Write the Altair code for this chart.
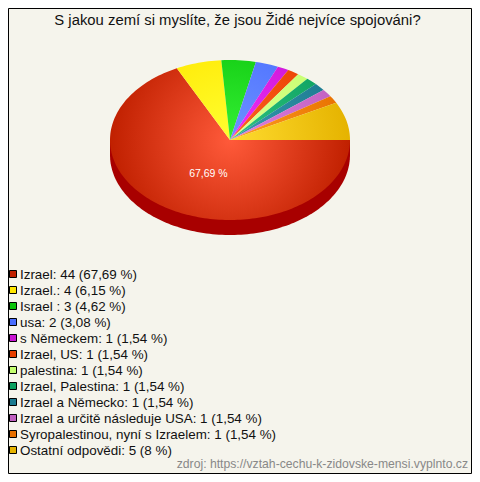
import numpy as np
import pandas as pd
import altair as alt

TITLE = "S jakou zemí si myslíte, že jsou Židé nejvíce spojováni?"
SOURCE = "zdroj: https://vztah-cechu-k-zidovske-mensi.vyplnto.cz"
PIE_LABEL = "67,69 %"
categories = ["Izrael", "Izrael.", "Israel ", "usa", "s Německem", "Izrael, US", "palestina",
              "Izrael, Palestina", "Izrael a Německo", "Izrael a určitě následuje USA",
              "Syropalestinou, nyní s Izraelem", "Ostatní odpovědi"]
counts = [44, 4, 3, 2, 1, 1, 1, 1, 1, 1, 1, 5]
percents = ["67,69", "6,15", "4,62", "3,08", "1,54", "1,54", "1,54", "1,54", "1,54", "1,54", "1,54", "8"]
edge_colors = ["#c02000", "#ffe600", "#0cc40c", "#4a6eff", "#c814d2", "#e84000", "#c4ff70",
               "#0ca060", "#1a7a90", "#c060c0", "#e87000", "#e5b300"]
center_colors = ["#ff5a3a", "#ffff30", "#34f034", "#6e92ff", "#f030fa", "#ff6020", "#e0ff90",
                 "#30c480", "#3a9ab0", "#e080e0", "#ffa020", "#ffdc30"]

BG = "#f5f4ec"
labels = [f"{c}: {n} ({p} %)" for c, n, p in zip(categories, counts, percents)]
total = sum(counts)
cuts = np.cumsum([0] + counts) / total * 2 * np.pi

x_scale = alt.Scale(domain=[-1, 1], range=[102, 342], nice=False, zero=False)
y_scale = alt.Scale(domain=[-1, 1], range=[212, 52], nice=False, zero=False)


def wedge_frame(t0, t1):
    # zero-area spokes make every wedge's box the full ellipse, so the radial
    # gradient is centred on the pie for all of them
    xs, ys = [0], [0]
    for sx, sy in [(1, 0), (0, 1), (-1, 0), (0, -1)]:
        xs += [sx, 0]
        ys += [sy, 0]
    ang = np.linspace(t0, t1, max(4, int((t1 - t0) * 40)))
    xs += list(np.cos(ang)) + [0]
    ys += list(-np.sin(ang)) + [0]
    return pd.DataFrame({"x": xs, "y": ys, "i": range(len(xs))})


wedges = []
for k in range(len(counts)):
    grad = alt.Gradient(
        gradient="radial", x1=0.5, y1=0.5, r1=0, x2=0.5, y2=0.5, r2=0.5,
        stops=[alt.GradientStop(offset=0, color=center_colors[k]),
               alt.GradientStop(offset=1, color=edge_colors[k])],
    )
    wedges.append(
        alt.Chart(wedge_frame(cuts[k], cuts[k + 1])).mark_line(fill=grad, strokeWidth=0).encode(
            x=alt.X("x:Q", scale=x_scale, axis=None),
            y=alt.Y("y:Q", scale=y_scale, axis=None),
            order="i:Q",
        )
    )

depth = 15 / 80
side_t = np.linspace(0, np.pi, 120)
side_df = pd.DataFrame({
    "x": [1.0] + list(np.cos(side_t)) + [-1.0],
    "y": [0.0] + list(-np.sin(side_t) - depth) + [0.0],
})
side_df["i"] = range(len(side_df))
side = alt.Chart(side_df).mark_line(fill="#a80000", strokeWidth=0).encode(
    x=alt.X("x:Q", scale=x_scale, axis=None),
    y=alt.Y("y:Q", scale=y_scale, axis=None),
    order="i:Q",
)

pie_label = alt.Chart(pd.DataFrame({"x": [-0.18], "y": [-0.42], "t": [PIE_LABEL]})).mark_text(
    color="white", font="Liberation Sans", fontSize=10.5, baseline="middle", align="center"
).encode(
    x=alt.X("x:Q", scale=x_scale, axis=None),
    y=alt.Y("y:Q", scale=y_scale, axis=None),
    text="t:N",
)

pie = alt.layer(side, *wedges, pie_label)

legend_df = pd.DataFrame({"label": labels, "color": edge_colors[:len(labels)]})
row_scale = alt.Scale(type="point", padding=0, domain=labels,
                      range=[266, 266 + 16 * (len(labels) - 1)])
squares = alt.Chart(legend_df).mark_square(size=49, stroke="black", strokeWidth=1, opacity=1).encode(
    x=alt.value(5),
    y=alt.Y("label:N", scale=row_scale, axis=None, sort=None),
    fill=alt.Color("color:N", scale=None),
)
texts = alt.Chart(legend_df).mark_text(
    align="left", baseline="middle", font="Liberation Sans", fontSize=13.4, color="#111111", dy=1
).encode(
    x=alt.value(12),
    y=alt.Y("label:N", scale=row_scale, axis=None, sort=None),
    text="label:N",
)
source = alt.Chart(pd.DataFrame({"t": [SOURCE]})).mark_text(
    align="right", baseline="middle", font="Liberation Sans", fontSize=12.2, color="#888888"
).encode(x=alt.value(460), y=alt.value(456), text="t:N")

chart = alt.layer(pie, squares, texts, source).resolve_scale(
    x="independent", y="independent"
).properties(
    width=463, height=465,
    padding={"left": 0, "top": 0, "right": 1, "bottom": 1},
    background=BG, autosize=alt.AutoSizeParams(type="none"),
    title=alt.TitleParams(
        TITLE, font="Liberation Sans", fontSize=14.85, fontWeight="normal", color="#111111",
        anchor="middle", offset=-20, dx=-2,
    ),
).configure_view(stroke="black", strokeWidth=1)

chart.save("out.html", embed_options={"renderer": "svg", "actions": False})
